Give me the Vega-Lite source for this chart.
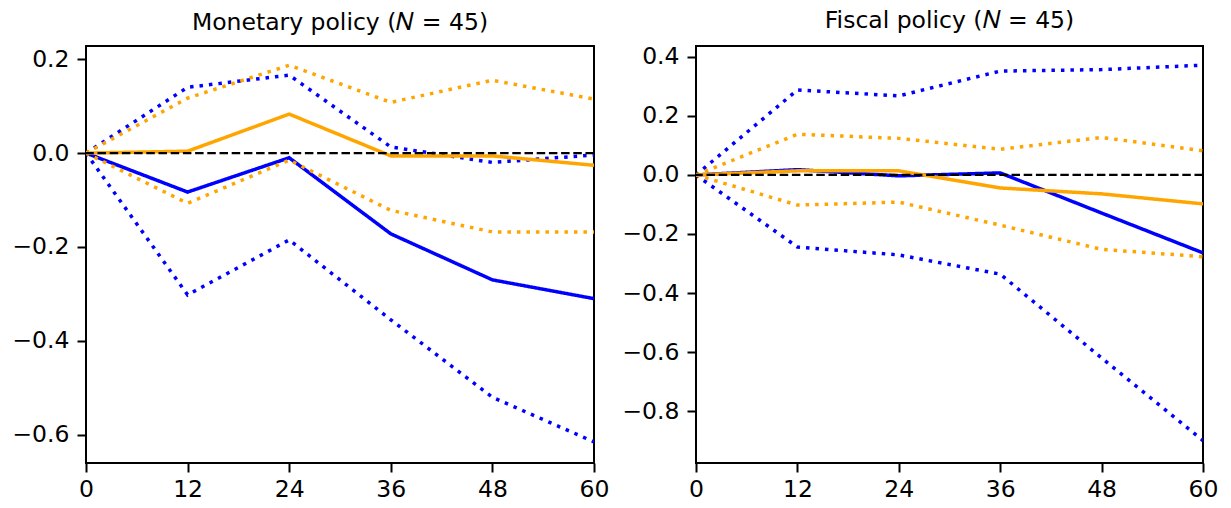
{
  "$schema": "https://vega.github.io/schema/vega-lite/v6.json",
  "background": "white",
  "padding": {"left": 10, "right": 5, "top": 8, "bottom": 2},
  "config": {
    "font": "DejaVu Sans",
    "view": {"stroke": "black", "strokeWidth": 2},
    "axis": {
      "labelFont": "DejaVu Sans", "labelFontSize": 23.5, "labelColor": "black",
      "tickColor": "black", "tickSize": 9, "tickWidth": 2,
      "domain": false, "grid": false, "title": null, "labelPadding": 8, "labelFlush": false
    },
    "title": {"font": "DejaVu Sans", "fontSize": 23.5, "fontWeight": "normal", "color": "black", "offset": 12},
    "concat": {"spacing": 10}
  },
  "datasets": {
    "mon": [
      {"t": 0, "grp": "A", "kind": "est", "v": 0},
      {"t": 12, "grp": "A", "kind": "est", "v": -0.083},
      {"t": 24, "grp": "A", "kind": "est", "v": -0.01},
      {"t": 36, "grp": "A", "kind": "est", "v": -0.172},
      {"t": 48, "grp": "A", "kind": "est", "v": -0.27},
      {"t": 60, "grp": "A", "kind": "est", "v": -0.31},
      {"t": 0, "grp": "A", "kind": "upper", "v": 0},
      {"t": 12, "grp": "A", "kind": "upper", "v": 0.14},
      {"t": 24, "grp": "A", "kind": "upper", "v": 0.166},
      {"t": 36, "grp": "A", "kind": "upper", "v": 0.013},
      {"t": 48, "grp": "A", "kind": "upper", "v": -0.02},
      {"t": 60, "grp": "A", "kind": "upper", "v": -0.004},
      {"t": 0, "grp": "A", "kind": "lower", "v": 0},
      {"t": 12, "grp": "A", "kind": "lower", "v": -0.302},
      {"t": 24, "grp": "A", "kind": "lower", "v": -0.185},
      {"t": 36, "grp": "A", "kind": "lower", "v": -0.355},
      {"t": 48, "grp": "A", "kind": "lower", "v": -0.52},
      {"t": 60, "grp": "A", "kind": "lower", "v": -0.615},
      {"t": 0, "grp": "B", "kind": "est", "v": 0},
      {"t": 12, "grp": "B", "kind": "est", "v": 0.004},
      {"t": 24, "grp": "B", "kind": "est", "v": 0.083},
      {"t": 36, "grp": "B", "kind": "est", "v": -0.006},
      {"t": 48, "grp": "B", "kind": "est", "v": -0.006},
      {"t": 60, "grp": "B", "kind": "est", "v": -0.026},
      {"t": 0, "grp": "B", "kind": "upper", "v": 0},
      {"t": 12, "grp": "B", "kind": "upper", "v": 0.117},
      {"t": 24, "grp": "B", "kind": "upper", "v": 0.187},
      {"t": 36, "grp": "B", "kind": "upper", "v": 0.108},
      {"t": 48, "grp": "B", "kind": "upper", "v": 0.155},
      {"t": 60, "grp": "B", "kind": "upper", "v": 0.115},
      {"t": 0, "grp": "B", "kind": "lower", "v": 0},
      {"t": 12, "grp": "B", "kind": "lower", "v": -0.107},
      {"t": 24, "grp": "B", "kind": "lower", "v": -0.015},
      {"t": 36, "grp": "B", "kind": "lower", "v": -0.122},
      {"t": 48, "grp": "B", "kind": "lower", "v": -0.168},
      {"t": 60, "grp": "B", "kind": "lower", "v": -0.168}
    ],
    "fis": [
      {"t": 0, "grp": "A", "kind": "est", "v": 0},
      {"t": 12, "grp": "A", "kind": "est", "v": 0.018},
      {"t": 24, "grp": "A", "kind": "est", "v": -0.003},
      {"t": 36, "grp": "A", "kind": "est", "v": 0.007},
      {"t": 48, "grp": "A", "kind": "est", "v": -0.129},
      {"t": 60, "grp": "A", "kind": "est", "v": -0.264},
      {"t": 0, "grp": "A", "kind": "upper", "v": 0},
      {"t": 12, "grp": "A", "kind": "upper", "v": 0.288},
      {"t": 24, "grp": "A", "kind": "upper", "v": 0.268},
      {"t": 36, "grp": "A", "kind": "upper", "v": 0.352},
      {"t": 48, "grp": "A", "kind": "upper", "v": 0.357},
      {"t": 60, "grp": "A", "kind": "upper", "v": 0.372},
      {"t": 0, "grp": "A", "kind": "lower", "v": 0},
      {"t": 12, "grp": "A", "kind": "lower", "v": -0.244},
      {"t": 24, "grp": "A", "kind": "lower", "v": -0.271},
      {"t": 36, "grp": "A", "kind": "lower", "v": -0.336},
      {"t": 48, "grp": "A", "kind": "lower", "v": -0.62},
      {"t": 60, "grp": "A", "kind": "lower", "v": -0.9},
      {"t": 0, "grp": "B", "kind": "est", "v": 0},
      {"t": 12, "grp": "B", "kind": "est", "v": 0.014},
      {"t": 24, "grp": "B", "kind": "est", "v": 0.014},
      {"t": 36, "grp": "B", "kind": "est", "v": -0.044},
      {"t": 48, "grp": "B", "kind": "est", "v": -0.064},
      {"t": 60, "grp": "B", "kind": "est", "v": -0.098},
      {"t": 0, "grp": "B", "kind": "upper", "v": 0},
      {"t": 12, "grp": "B", "kind": "upper", "v": 0.138},
      {"t": 24, "grp": "B", "kind": "upper", "v": 0.124},
      {"t": 36, "grp": "B", "kind": "upper", "v": 0.087},
      {"t": 48, "grp": "B", "kind": "upper", "v": 0.127},
      {"t": 60, "grp": "B", "kind": "upper", "v": 0.082},
      {"t": 0, "grp": "B", "kind": "lower", "v": 0},
      {"t": 12, "grp": "B", "kind": "lower", "v": -0.102},
      {"t": 24, "grp": "B", "kind": "lower", "v": -0.092},
      {"t": 36, "grp": "B", "kind": "lower", "v": -0.17},
      {"t": 48, "grp": "B", "kind": "lower", "v": -0.252},
      {"t": 60, "grp": "B", "kind": "lower", "v": -0.277}
    ],
    "zero": [{"y": 0}]
  },
  "hconcat": [
    {
      "title": "Monetary policy (𝑁 = 45)",
      "width": 508,
      "height": 417,
      "layer": [
        {
          "data": {"name": "mon"},
          "mark": {"type": "line", "strokeWidth": 3.5, "strokeCap": "butt", "clip": true},
          "encoding": {
            "x": {"field": "t", "type": "quantitative", "scale": {"domain": [0, 60], "nice": false, "zero": false}, "axis": {"values": [0, 12, 24, 36, 48, 60], "labelPadding": 5}},
            "y": {"field": "v", "type": "quantitative", "scale": {"domain": [-0.66, 0.228], "nice": false, "zero": false}, "axis": {"values": [-0.6, -0.4, -0.2, 0, 0.2], "format": ".1f"}},
            "color": {"field": "grp", "type": "nominal", "scale": {"domain": ["A", "B"], "range": ["#0000ff", "#ffa500"]}, "legend": null},
            "strokeDash": {"field": "kind", "type": "nominal", "scale": {"domain": ["est", "upper", "lower"], "range": [[1, 0], [3.5, 6], [3.5, 6]]}, "legend": null},
            "detail": {"field": "kind"}
          }
        },
        {
          "data": {"name": "zero"},
          "mark": {"type": "rule", "color": "black", "strokeWidth": 2.3, "strokeDash": [8.5, 3.7]},
          "encoding": {"y": {"field": "y", "type": "quantitative"}}
        }
      ]
    },
    {
      "title": "Fiscal policy (𝑁 = 45)",
      "width": 507,
      "height": 417,
      "layer": [
        {
          "data": {"name": "fis"},
          "mark": {"type": "line", "strokeWidth": 3.5, "strokeCap": "butt", "clip": true},
          "encoding": {
            "x": {"field": "t", "type": "quantitative", "scale": {"domain": [0, 60], "nice": false, "zero": false}, "axis": {"values": [0, 12, 24, 36, 48, 60], "labelPadding": 5}},
            "y": {"field": "v", "type": "quantitative", "scale": {"domain": [-0.976, 0.437], "nice": false, "zero": false}, "axis": {"values": [-0.8, -0.6, -0.4, -0.2, 0, 0.2, 0.4], "format": ".1f"}},
            "color": {"field": "grp", "type": "nominal", "scale": {"domain": ["A", "B"], "range": ["#0000ff", "#ffa500"]}, "legend": null},
            "strokeDash": {"field": "kind", "type": "nominal", "scale": {"domain": ["est", "upper", "lower"], "range": [[1, 0], [3.5, 6], [3.5, 6]]}, "legend": null},
            "detail": {"field": "kind"}
          }
        },
        {
          "data": {"name": "zero"},
          "mark": {"type": "rule", "color": "black", "strokeWidth": 2.3, "strokeDash": [8.5, 3.7]},
          "encoding": {"y": {"field": "y", "type": "quantitative"}}
        }
      ]
    }
  ]
}
